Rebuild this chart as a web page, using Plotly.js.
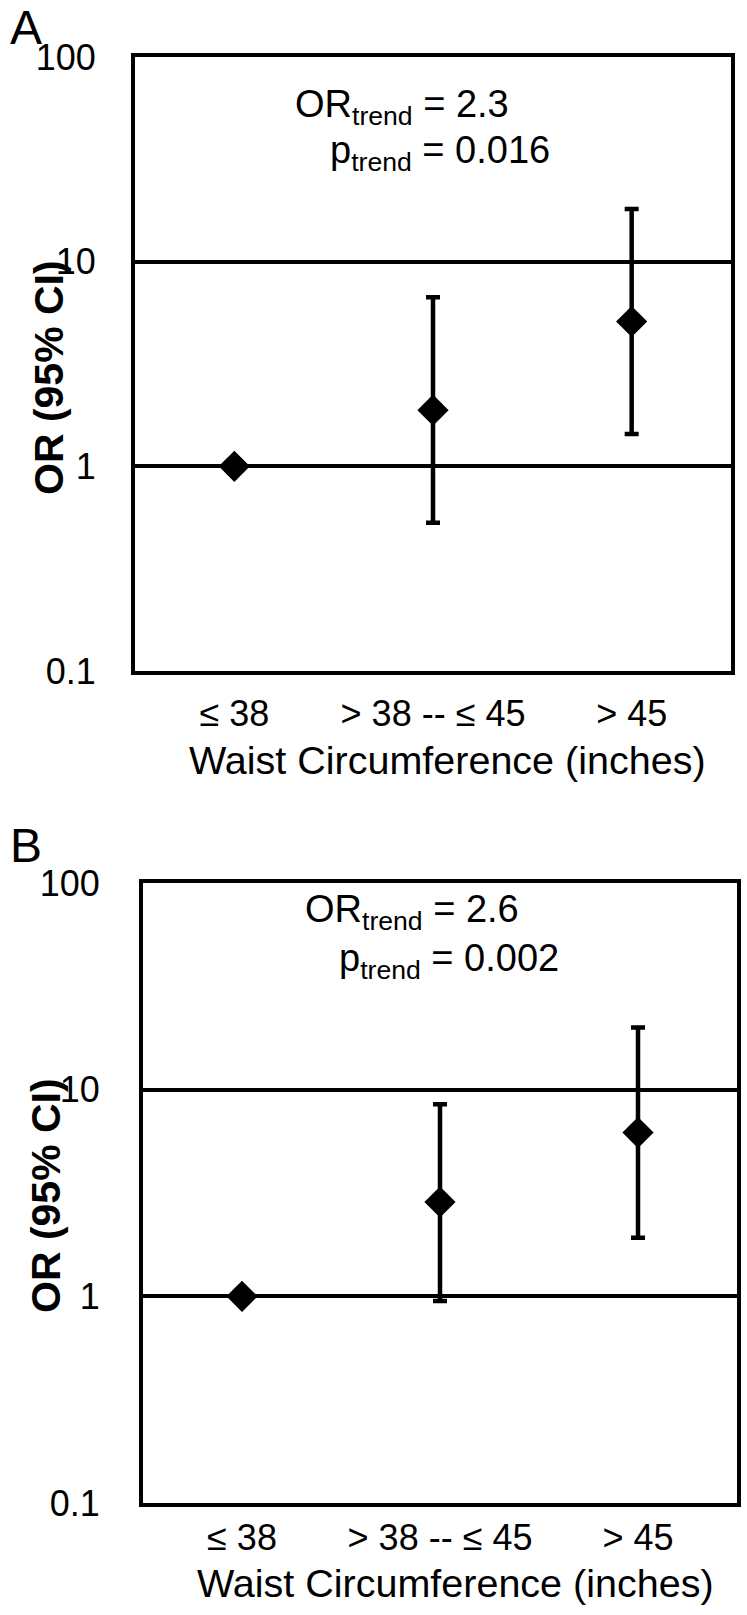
<!DOCTYPE html>
<html>
<head>
<meta charset="utf-8">
<script src="https://cdn.plot.ly/plotly-3.0.1.min.js"></script>
<style>
  html, body { margin: 0; padding: 0; background: #fff; }
  #chart { width: 747px; height: 1615px; }
</style>
</head>
<body>
<div id="chart"></div>
<script>
// ---- data ----
const categories = ['≤ 38', '> 38 -- ≤ 45', '> 45'];

const orA    = [1, 1.88, 5.1];
const lowerA = [1, 0.53, 1.44];
const upperA = [1, 6.7, 18.1];

const orB    = [1, 2.86, 6.2];
const lowerB = [1, 0.95, 1.92];
const upperB = [1, 8.5, 20];

const yTickVals = [0.1, 1, 10, 100];
const yTickText = ['0.1', '1', '10', '100'];

const panelLabels = ['A', 'B'];
const trendOR = ['2.3', '2.6'];
const trendP  = ['0.016', '0.002'];
const xTitle = 'Waist Circumference (inches)';
const yTitle = 'OR (95% CI)';

// ---- build ----
const W = 747, H = 1615;
const px = v => v / W;
const py = v => 1 - v / H;
const FONT = 'Liberation Sans, Arial, sans-serif';

function makeTrace(orv, lo, hi, xa, ya) {
  return {
    type: 'scatter', mode: 'markers',
    x: categories, y: orv, xaxis: xa, yaxis: ya,
    marker: { symbol: 'diamond', size: 24, color: '#000' },
    error_y: {
      type: 'data', symmetric: false,
      array: orv.map((v, i) => hi[i] - v),
      arrayminus: orv.map((v, i) => v - lo[i]),
      color: '#000', thickness: 4.5, width: 7
    },
    showlegend: false, hoverinfo: 'skip', cliponaxis: false
  };
}

const data = [
  makeTrace(orA, lowerA, upperA, 'x', 'y'),
  makeTrace(orB, lowerB, upperB, 'x2', 'y2')
];

function xAxis(domain, anchor, standoff) {
  return {
    domain: domain, anchor: anchor, type: 'category',
    categoryorder: 'array', categoryarray: categories,
    range: [-0.5, 2.5], showgrid: false, zeroline: false,
    showline: true, mirror: true, linecolor: '#000', linewidth: 4,
    ticks: '', ticklabelstandoff: standoff,
    tickfont: { family: FONT, size: 36, color: '#000' },
    fixedrange: true
  };
}
function yAxis(domain, anchor, standoff) {
  return {
    domain: domain, anchor: anchor, type: 'log', range: [-1, 2],
    tickmode: 'array', tickvals: yTickVals, ticktext: yTickText,
    showgrid: true, gridcolor: '#000', gridwidth: 4, zeroline: false,
    showline: true, mirror: true, linecolor: '#000', linewidth: 4,
    ticks: '', ticklabelstandoff: standoff,
    tickfont: { family: FONT, size: 36, color: '#000' },
    fixedrange: true
  };
}

const ann = [];
function txt(text, x, y, size, opts) {
  return Object.assign({
    text: text, xref: 'paper', yref: 'paper', x: x, y: y,
    showarrow: false, xanchor: 'center', yanchor: 'middle',
    font: { family: FONT, size: size, color: '#000' }
  }, opts || {});
}
const boldFont = { family: FONT, size: 41, color: '#000', weight: 'bold' };
// panel letters
ann.push(txt(panelLabels[0], px(26), py(28), 48));
ann.push(txt(panelLabels[1], px(26), py(845), 48));
// trend text
ann.push(txt('OR<sub>trend</sub> = ' + trendOR[0], px(293), py(107), 38, { xanchor: 'left' }));
ann.push(txt('p<sub>trend</sub> = ' + trendP[0], px(328), py(153), 38, { xanchor: 'left' }));
ann.push(txt('OR<sub>trend</sub> = ' + trendOR[1], px(303), py(912), 38, { xanchor: 'left' }));
ann.push(txt('p<sub>trend</sub> = ' + trendP[1], px(337), py(961), 38, { xanchor: 'left' }));
// x titles
ann.push(txt(xTitle, px(447), py(760), 39.5));
ann.push(txt(xTitle, px(455), py(1583), 39.5));
// y titles
ann.push(txt(yTitle, px(49), py(378), 41, { textangle: -90, font: boldFont }));
ann.push(txt(yTitle, px(46), py(1196), 41, { textangle: -90, font: boldFont }));

const layout = {
  width: W, height: H,
  margin: { l: 0, r: 0, t: 0, b: 0, pad: 0 },
  paper_bgcolor: '#fff', plot_bgcolor: '#fff',
  showlegend: false,
  xaxis:  xAxis([px(135), px(731)], 'y', 8),
  yaxis:  yAxis([py(671), py(57)], 'x', 28),
  xaxis2: xAxis([px(143), px(737)], 'y2', 0),
  yaxis2: yAxis([py(1503), py(883)], 'x2', 32),
  annotations: ann,
  font: { family: FONT, color: '#000' }
};

Plotly.newPlot('chart', data, layout, { staticPlot: true, displayModeBar: false });
</script>
</body>
</html>
